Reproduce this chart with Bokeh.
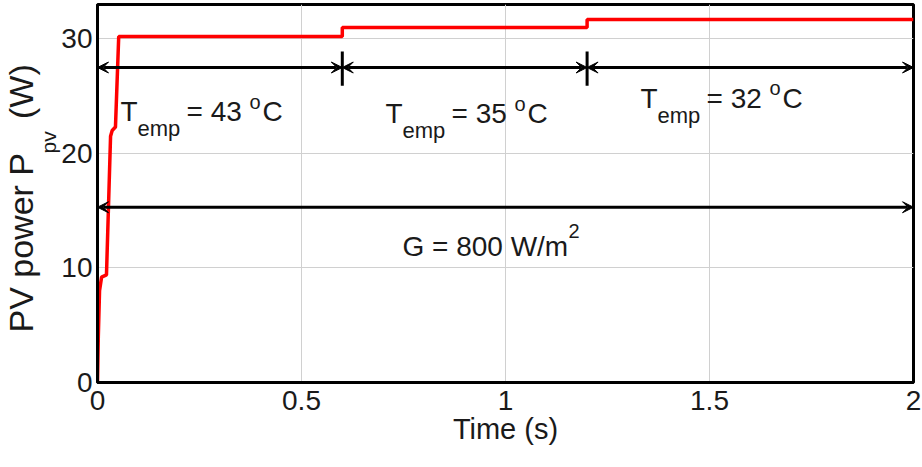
from bokeh.plotting import figure
from bokeh.models import Label, Arrow, VeeHead, FixedTicker, Range1d, Title
from bokeh.embed import file_html
from bokeh.resources import INLINE

# ---- data ----
time_s = [0.0, 0.002, 0.005, 0.010, 0.022, 0.032, 0.036, 0.044, 0.052,
          0.600, 0.600, 1.200, 1.200, 2.000]
power_w = [0.0, 4.0, 8.0, 9.2, 9.4, 21.5, 22.0, 22.3, 30.2,
           30.2, 31.0, 31.0, 31.7, 31.7]

x_ticks = [0, 0.5, 1, 1.5, 2]
x_tick_labels = ["0", "0.5", "1", "1.5", "2"]
y_ticks = [0, 10, 20, 30]
y_tick_labels = ["0", "10", "20", "30"]

temp_values = ["43", "35", "32"]
temp_bounds = [0.0, 0.6, 1.2, 2.0]
irradiance_text = "800"

FONT = "Liberation Sans"
TXT = "#1a1a1a"

p = figure(width=922, height=467, output_backend="svg", toolbar_location=None,
           x_range=Range1d(0, 2), y_range=Range1d(0, 33),
           min_border_left=97, min_border_right=9, min_border_top=4,
           min_border_bottom=85)
p.background_fill_color = "white"
p.border_fill_color = "white"
p.outline_line_color = "black"
p.outline_line_width = 3
p.outline_line_alpha = 1.0

# axes
p.xaxis.ticker = FixedTicker(ticks=x_ticks)
p.yaxis.ticker = FixedTicker(ticks=y_ticks)
p.xaxis.major_label_overrides = {t: l for t, l in zip(x_ticks, x_tick_labels)}
p.yaxis.major_label_overrides = {t: l for t, l in zip(y_ticks, y_tick_labels)}
for ax in (p.xaxis, p.yaxis):
    ax.axis_line_color = "black"
    ax.axis_line_width = 3
    ax.major_tick_in = 0
    ax.major_tick_out = 0
    ax.minor_tick_in = 0
    ax.minor_tick_out = 0
    ax.major_label_text_font = FONT
    ax.major_label_text_font_size = "28px"
    ax.major_label_text_color = TXT
p.yaxis.major_label_standoff = 5
p.xaxis.major_label_standoff = 8
p.xaxis.axis_label = "Time (s)"
p.xaxis.axis_label_text_font = FONT
p.xaxis.axis_label_text_font_size = "29px"
p.xaxis.axis_label_text_font_style = "normal"
p.xaxis.axis_label_text_color = TXT
p.xaxis.axis_label_standoff = 0

p.xgrid.ticker = FixedTicker(ticks=x_ticks)
p.ygrid.ticker = FixedTicker(ticks=y_ticks)
for g in (p.xgrid, p.ygrid):
    g.grid_line_color = "#d0d0d0"
    g.grid_line_width = 1

# data line
p.line(time_s, power_w, line_color="#ff0000", line_width=3.5)


def head():
    return VeeHead(size=11, fill_color="black", line_color="black", line_width=1)


# temperature-interval arrows
arrow_y = 27.5
for a, b in zip(temp_bounds[:-1], temp_bounds[1:]):
    p.add_layout(Arrow(x_start=a, y_start=arrow_y, x_end=b, y_end=arrow_y,
                       line_color="black", line_width=3, start=head(), end=head()))
inner = temp_bounds[1:-1]
p.segment(x0=inner, y0=[25.9] * len(inner), x1=inner, y1=[28.9] * len(inner),
          line_color="black", line_width=3)

# irradiance arrow
p.add_layout(Arrow(x_start=temp_bounds[0], y_start=15.3, x_end=temp_bounds[-1], y_end=15.3,
                   line_color="black", line_width=3, start=head(), end=head()))


def lab(x, y, text, size, dx=0, dy=0):
    p.add_layout(Label(x=x, y=y, text=text, x_offset=dx, y_offset=dy,
                       text_font=FONT, text_font_size=f"{size}px", text_color=TXT,
                       text_baseline="alphabetic", text_align="left"))


# temperature labels
anchors = [(0.0564, 23.65), (0.706, 23.45), (1.331, 24.8)]
for (ax_, ay_), tv in zip(anchors, temp_values):
    lab(ax_, ay_, "T", 28)
    lab(ax_, ay_, "emp", 22, dx=17, dy=-17)
    lab(ax_, ay_, "= " + tv, 28, dx=66)
    lab(ax_, ay_, "o", 20, dx=129, dy=10)
    lab(ax_, ay_, "C", 28, dx=142)

# irradiance label
lab(0.7475, 11.9, "G = " + irradiance_text + " W/m", 28)
lab(0.7475, 11.9, "2", 20, dx=166, dy=15)

# y-axis label: subscript column next to the axis, main text further out
sub_title = Title(text="pv", align="left", offset=229, standoff=-3,
                  text_font=FONT, text_font_size="21px", text_font_style="normal",
                  text_color=TXT)
main_title = Title(text="PV power P\u2002\u2002(W)", align="left", offset=50, standoff=-6,
                   text_font=FONT, text_font_size="34px", text_font_style="normal",
                   text_color=TXT)
p.add_layout(sub_title, "left")
p.add_layout(main_title, "left")

open("out.html", "w").write(file_html(p, INLINE))
